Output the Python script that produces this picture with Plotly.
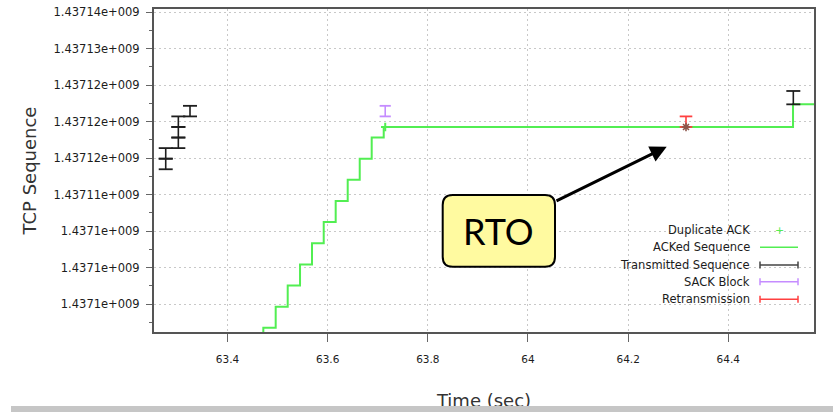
import plotly.graph_objects as go

# ---------------- data ----------------
# cumulative ACK (step line)
ack_time = [63.4475, 63.4715, 63.4962, 63.5202, 63.5448, 63.5687, 63.5921,
            63.6160, 63.6400, 63.6640, 63.6879, 63.7119, 64.5292, 64.6000]
ack_seq = [1437093842, 1437096738, 1437099634, 1437102530, 1437105426,
           1437108322, 1437111218, 1437114114, 1437117010, 1437119906,
           1437122802, 1437124250, 1437127350, 1437127350]

# duplicate ACKs
dupack_time = [63.7149]
dupack_seq = [1437124250]

# transmitted segments (start/end sequence)
tx_time = [63.2766, 63.2766, 63.3018, 63.3018, 63.3018, 63.3251, 64.5298]
tx_start = [1437118458, 1437119906, 1437121354, 1437122802, 1437124250,
            1437125698, 1437127350]
tx_end = [1437119906, 1437121354, 1437122802, 1437124250, 1437125698,
          1437127146, 1437129180]

# SACK blocks
sack_time = [63.7149]
sack_start = [1437125698]
sack_end = [1437127146]

# retransmissions
rtx_time = [64.3155]
rtx_start = [1437124250]
rtx_end = [1437125698]

# axis ticks
x_tickvals = [63.4, 63.6, 63.8, 64.0, 64.2, 64.4]
x_ticktext = ["63.4", "63.6", "63.8", "64", "64.2", "64.4"]
y_tickvals = [1437100000, 1437105000, 1437110000, 1437115000, 1437120000,
              1437125000, 1437130000, 1437135000, 1437140000]
y_ticktext = ["1.4371e+009", "1.4371e+009", "1.4371e+009", "1.43711e+009",
              "1.43712e+009", "1.43712e+009", "1.43712e+009", "1.43713e+009",
              "1.43714e+009"]
y_minor_vals = [1437097500, 1437102500, 1437107500, 1437112500, 1437117500,
                1437122500, 1437127500, 1437132500, 1437137500]

legend_labels = ["Duplicate ACK", "ACKed Sequence", "Transmitted Sequence",
                 "SACK Block", "Retransmission"]

# ---------------- styling ----------------
GREEN = "#52ee52"
BLACK = "#1e1e1e"
PURPLE = "#c58cff"
RED = "#ff4040"
TXT = "#1c1c1c"
FONT = "DejaVu Sans"

W, H = 833, 414
ML, MR, MT, MB = 154, 19, 9, 82
PW, PH = W - ML - MR, H - MT - MB


def fx(xpix):
    """page pixel column -> paper x"""
    return (xpix - ML) / PW


def fy(ypix):
    """page pixel row -> paper y"""
    return (H - MB - ypix) / PH


def segments(times, starts, ends):
    xs, ys = [], []
    for t, a, b in zip(times, starts, ends):
        xs += [t, t, None]
        ys += [a, b, None]
    return xs, ys


fig = go.Figure()

# ACKed sequence step line
fig.add_trace(go.Scatter(
    x=ack_time, y=ack_seq, mode="lines", line_shape="hv",
    line=dict(color=GREEN, width=2), name="ACKed Sequence", showlegend=False))

# duplicate ACK markers
fig.add_trace(go.Scatter(
    x=dupack_time, y=dupack_seq, mode="markers",
    marker=dict(symbol="cross-thin", size=6, line=dict(color=GREEN, width=2)),
    name="Duplicate ACK", showlegend=False))


def bar_trace(times, starts, ends, color, name, cap=10):
    xs, ys = segments(times, starts, ends)
    return go.Scatter(
        x=xs, y=ys, mode="lines+markers",
        line=dict(color=color, width=1.6),
        marker=dict(symbol="line-ew", size=cap, line=dict(color=color, width=1.8)),
        name=name, showlegend=False)


fig.add_trace(bar_trace(tx_time, tx_start, tx_end, BLACK, "Transmitted Sequence"))
fig.add_trace(bar_trace(sack_time, sack_start, sack_end, PURPLE, "SACK Block", cap=8))
fig.add_trace(bar_trace(rtx_time, rtx_start, rtx_end, RED, "Retransmission", cap=9))
fig.add_trace(go.Scatter(
    x=rtx_time, y=rtx_start, mode="markers",
    marker=dict(symbol="asterisk-open", size=7, line=dict(color=RED, width=1.6)),
    name="Retransmission", showlegend=False))

axis_common = dict(
    showline=True, linecolor="#555555", linewidth=2, mirror=True,
    showgrid=True, gridcolor="#c8c8c8", gridwidth=1, griddash="2px,3px",
    zeroline=False, ticks="outside", tickcolor="#666666", tickwidth=1,
    automargin=False,
)

fig.update_xaxes(
    range=[63.2532, 64.5711], tickmode="array", tickvals=x_tickvals,
    ticktext=x_ticktext, ticklen=8, ticklabelstandoff=8,
    tickfont=dict(family=FONT, size=10.5, color=TXT),
    title=dict(text="Time (sec)", font=dict(family=FONT, size=18, color="#333333"),
               standoff=31),
    **axis_common)

fig.update_yaxes(
    range=[1437096164, 1437140411], tickmode="array", tickvals=y_tickvals,
    ticktext=y_ticktext, ticklen=6, ticklabelstandoff=4,
    tickfont=dict(family=FONT, size=11.5, color=TXT),
    minor=dict(tickvals=y_minor_vals, ticks="outside", ticklen=3,
               tickcolor="#666666", showgrid=False),
    title=dict(text="TCP Sequence", font=dict(family=FONT, size=18, color="#333333"),
               standoff=12),
    **axis_common)

shapes = []
annotations = []

# RTO callout box with rounded corners
bx0, bx1, by0, by1 = fx(442.7), fx(555.0), fy(266.7), fy(195.0)
rx, ry = 10 / PW, 10 / PH
rto_path = (f"M {bx0 + rx},{by1} L {bx1 - rx},{by1} Q {bx1},{by1} {bx1},{by1 - ry} "
            f"L {bx1},{by0 + ry} Q {bx1},{by0} {bx1 - rx},{by0} "
            f"L {bx0 + rx},{by0} Q {bx0},{by0} {bx0},{by0 + ry} "
            f"L {bx0},{by1 - ry} Q {bx0},{by1} {bx0 + rx},{by1} Z")
shapes.append(dict(type="path", path=rto_path, xref="paper", yref="paper",
                   fillcolor="#fffaa0", line=dict(color="black", width=2),
                   layer="above"))
annotations.append(dict(text="RTO", xref="paper", yref="paper",
                        x=(bx0 + bx1) / 2, y=(by0 + by1) / 2,
                        xanchor="center", yanchor="middle", showarrow=False,
                        font=dict(family="Liberation Sans Narrow, Lato", size=36,
                                  color="black")))
# arrow from the callout towards the retransmission
annotations.append(dict(text="", xref="paper", yref="paper",
                        x=fx(666.7), y=fy(146.7), ax=555.0 - 666.7, ay=201.7 - 146.7,
                        showarrow=True, arrowhead=2, arrowsize=1.1, arrowwidth=3,
                        arrowcolor="black", standoff=0, startstandoff=0))

# key (text on the left, sample on the right)
row_y = [230.0, 247.3, 265.0, 281.7, 299.3]
text_right = 751.7
s0, s1 = 760.0, 798.0
sample_colors = [GREEN, GREEN, "#444444", PURPLE, RED]
for i, (lab, yy) in enumerate(zip(legend_labels, row_y)):
    annotations.append(dict(text=lab, xref="paper", yref="paper",
                            x=fx(text_right), y=fy(yy), xanchor="right",
                            yanchor="middle", showarrow=False,
                            font=dict(family=FONT, size=11.5, color=TXT)))
    col = sample_colors[i]
    if i == 0:
        annotations.append(dict(text="+", xref="paper", yref="paper",
                                x=fx((s0 + s1) / 2), y=fy(yy), xanchor="center",
                                yanchor="middle", showarrow=False,
                                font=dict(family=FONT, size=11, color=col)))
        continue
    shapes.append(dict(type="line", xref="paper", yref="paper",
                       x0=fx(s0), x1=fx(s1), y0=fy(yy), y1=fy(yy),
                       line=dict(color=col, width=1.5), layer="above"))
    if i >= 2:
        for sx in (s0, s1):
            shapes.append(dict(type="line", xref="paper", yref="paper",
                               x0=fx(sx), x1=fx(sx), y0=fy(yy - 3.5), y1=fy(yy + 3.5),
                               line=dict(color=col, width=1.5), layer="above"))

# grey separator bar across the bottom of the page
annotations.append(dict(text=" ", xref="paper", yref="paper",
                        x=fx(11), y=fy(406), xanchor="left", yanchor="top",
                        width=W - 11, height=6, bgcolor="#c6c6c6", borderpad=0,
                        borderwidth=0, showarrow=False, font=dict(size=4)))

fig.update_layout(
    width=W, height=H, template="none",
    margin=dict(l=ML, r=MR, t=MT, b=MB, pad=0),
    paper_bgcolor="white", plot_bgcolor="white",
    showlegend=False, shapes=shapes, annotations=annotations,
)

fig.write_html("out.html")
